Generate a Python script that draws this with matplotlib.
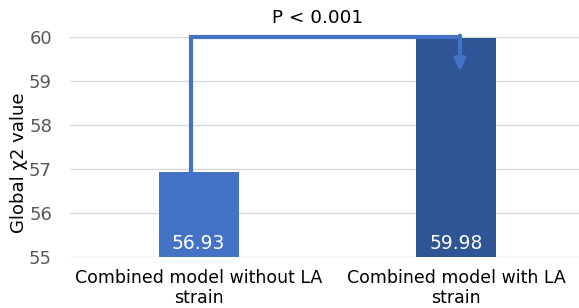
import matplotlib
matplotlib.use("Agg")
from matplotlib import pyplot as plt

plt.rcParams["font.family"] = ["DejaVu Sans"]

categories = ["Combined model without LA\nstrain", "Combined model with LA\nstrain"]
values = [56.93, 59.98]
colors = ["#4472C4", "#2F5597"]
p_text = "P < 0.001"

fig = plt.figure(figsize=(5.79, 3.08), dpi=100)
ax = fig.add_axes([0.121, 0.166, 0.889, 0.714])

x = list(range(len(values)))
ax.bar(x, [v - 55 for v in values], bottom=55, width=0.31, color=colors, zorder=3)
for xi, v in zip(x, values):
    ax.text(xi, 55.3, f"{v:.2f}", color="white", ha="center", va="center", fontsize=13.5, zorder=4)

ax.set_ylim(55, 60)
ax.set_xlim(-0.5, 1.5)
ax.set_yticks([55, 56, 57, 58, 59, 60])
ax.set_xticks(x)
ax.set_xticklabels(categories, fontsize=12.5, color="#000000", linespacing=1.12)
ax.tick_params(axis="x", length=0, pad=9)
ax.tick_params(axis="y", length=0, labelsize=13, labelcolor="#595959", pad=13)
ax.grid(axis="y", color="#D9D9D9", linewidth=1, zorder=0)
for s in ax.spines.values():
    s.set_visible(False)
ax.set_ylabel("Global χ2 value", fontsize=13)
ax.yaxis.set_label_coords(-0.082, 0.43)

# significance bracket
x0, x1 = -0.03, 1.015
ax.plot([x0, x0, x1], [values[0], 60.0, 60.0], color="#4472C4", linewidth=3,
        solid_joinstyle="miter", clip_on=False, zorder=5)
ax.annotate("", xy=(x1, 59.2), xytext=(x1, 60.03),
            arrowprops=dict(arrowstyle="-|>,head_width=0.3,head_length=0.7",
                            color="#4472C4", linewidth=3, shrinkA=0, shrinkB=0),
            annotation_clip=False, zorder=5)
ax.text(0.46, 60.42, p_text, ha="center", va="center", fontsize=13.2)

fig.savefig("out.png", dpi=100)
